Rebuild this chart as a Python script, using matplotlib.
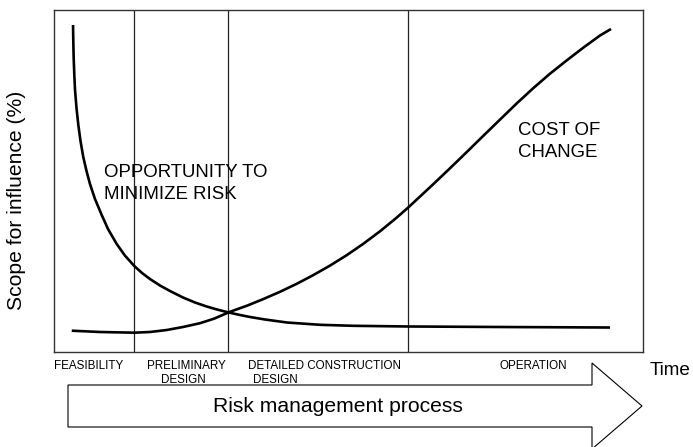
import matplotlib
matplotlib.use("Agg")
import matplotlib.pyplot as plt
from matplotlib.patches import Polygon

plt.rcParams['font.family'] = ['Liberation Sans', 'DejaVu Sans']

W, H = 693, 447

# time axis in % of the project life, scope in %
opp_x = [3.23, 3.28, 3.34, 3.45, 3.57, 3.82, 4.13, 4.50, 4.97, 5.52, 6.11, 6.96, 8.10, 9.17,
         10.65, 12.05, 13.63, 14.94, 16.30, 17.99, 19.69, 21.90, 23.94, 25.93, 27.67, 29.54,
         31.58, 33.28, 35.82, 39.56, 45.16, 50.76, 60.10, 75.72, 94.40]
opp_y = [95.47, 90.51, 85.84, 80.88, 76.50, 71.24, 66.28, 61.61, 56.93, 52.85, 49.05, 44.67,
         40.00, 35.91, 31.53, 28.14, 25.11, 23.07, 21.31, 19.42, 17.81, 15.91, 14.45, 13.28,
         12.41, 11.59, 10.80, 10.22, 9.49, 8.61, 7.94, 7.65, 7.45, 7.30, 7.15]

cost_x = [3.01, 7.81, 13.63, 16.30, 19.13, 21.90, 24.79, 27.16, 29.88, 32.72, 35.53, 38.37,
          41.21, 44.02, 46.86, 49.69, 52.51, 55.35, 58.18, 60.10, 64.35, 67.23, 70.07, 72.89,
          75.72, 78.56, 81.38, 84.21, 87.05, 89.86, 92.70, 94.57]
cost_y = [6.22, 5.84, 5.64, 5.84, 6.42, 7.30, 8.41, 9.72, 11.74, 13.49, 15.45, 17.58,
          19.91, 22.45, 25.23, 28.26, 31.59, 35.24, 39.24, 42.13, 48.93, 53.64, 58.37, 63.12,
          67.85, 72.58, 77.05, 81.26, 85.14, 88.85, 92.41, 94.31]

phase_bounds = [13.6, 29.5, 60.1]


def px(x, y):
    # pixel position -> figure fraction
    return x / W, 1 - y / H


fig = plt.figure(figsize=(W / 100, H / 100), dpi=100)
ax = fig.add_axes([54 / W, 1 - 352 / H, (643 - 54) / W, (352 - 9.5) / H])
ax.set_xlim(0, 100)
ax.set_ylim(0, 100)
ax.set_xticks([])
ax.set_yticks([])
for s in ax.spines.values():
    s.set_color('#333333')
    s.set_linewidth(1.0)

for xb in phase_bounds:
    ax.axvline(xb, color='#222222', lw=0.9)

ax.plot(opp_x, opp_y, color='black', lw=1.9, solid_capstyle='butt', solid_joinstyle='round')
ax.plot(cost_x, cost_y, color='black', lw=1.9, solid_capstyle='butt', solid_joinstyle='round')

big = 13.4
fig.text(*px(104, 177), 'OPPORTUNITY TO', fontsize=big, va='baseline')
fig.text(*px(104, 199), 'MINIMIZE RISK', fontsize=big, va='baseline')
fig.text(*px(518, 135), 'COST OF', fontsize=big, va='baseline')
fig.text(*px(518, 157), 'CHANGE', fontsize=big, va='baseline')

fig.text(*px(22.5, 200), 'Scope for influence (%)', fontsize=15.2, rotation=90,
         rotation_mode='anchor', ha='center', va='baseline')

small = 8.4
fig.text(*px(54, 369), 'FEASIBILITY', fontsize=small, va='baseline')
fig.text(*px(186.5, 369), 'PRELIMINARY', fontsize=small, va='baseline', ha='center')
fig.text(*px(183, 383), 'DESIGN', fontsize=small, va='baseline', ha='center')
fig.text(*px(248, 369), 'DETAILED CONSTRUCTION', fontsize=small, va='baseline')
fig.text(*px(253, 383), 'DESIGN', fontsize=small, va='baseline')
fig.text(*px(533, 369), 'OPERATION', fontsize=small, va='baseline', ha='center')

fig.text(*px(650, 375), 'Time', fontsize=13.6, va='baseline')

arrow_pts = [px(68, 385), px(592, 385), px(592, 363), px(642, 406),
             px(592, 449), px(592, 427), px(68, 427)]
fig.patches.append(Polygon(arrow_pts, closed=True, transform=fig.transFigure,
                           facecolor='white', edgecolor='black', lw=0.8))
fig.text(*px(338, 412), 'Risk management process', fontsize=15.2, va='baseline', ha='center')

fig.savefig('out.png', dpi=100)
